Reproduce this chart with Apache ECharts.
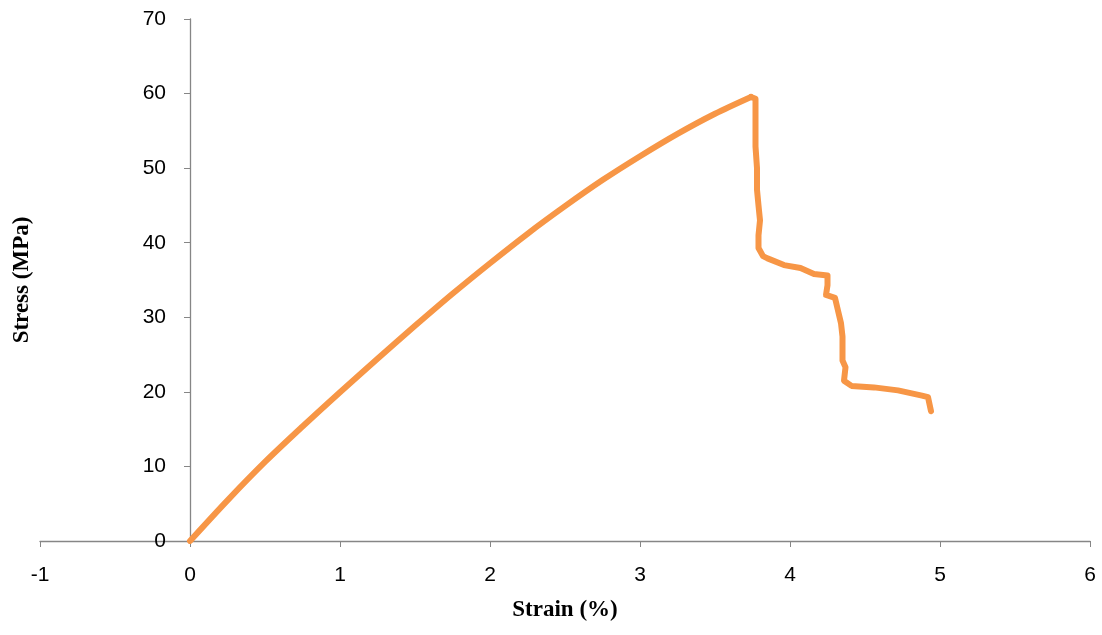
<!DOCTYPE html>
<html>
<head>
<meta charset="utf-8">
<script src="https://cdn.jsdelivr.net/npm/echarts@6/dist/echarts.min.js"></script>
<style>
  html, body { margin: 0; padding: 0; background: #fff; }
  #chart { width: 1102px; height: 635px; }
</style>
</head>
<body>
<div id="chart"></div>
<script>
// loading part, strain (%) and stress (MPa)
const riseStrain = [0, 0.25, 0.5, 0.75, 1, 1.25, 1.5, 1.75, 2, 2.25, 2.5, 2.75, 3, 3.25, 3.5, 3.74]
const riseStress = [0, 5.45, 10.6, 15.35, 19.95, 24.45, 28.85, 33.15, 37.25, 41.2, 44.9, 48.4, 51.6, 54.6, 57.3, 59.55]

// failure part after the peak
const dropStrain = [
  3.74, 3.77, 3.77, 3.77, 3.78, 3.78, 3.79, 3.8, 3.79, 3.79, 3.82,
  3.85, 3.96, 4.07, 4.16, 4.25, 4.25, 4.24, 4.3, 4.32, 4.34, 4.35, 4.35, 4.37, 4.36,
  4.41, 4.56, 4.72, 4.88, 4.92, 4.94
]
const dropStress = [
  59.55, 59.3, 55, 52.9, 50, 47.1, 45, 43, 41, 39.3, 38.2,
  37.9, 37.0, 36.6, 35.8, 35.6, 34.3, 33.0, 32.6, 30.9, 29.2, 27.4, 24.2, 23.3, 21.5,
  20.8, 20.6, 20.2, 19.5, 19.3, 17.4
]

const xTicks = { min: -1, max: 6, interval: 1 }
const yTicks = { min: 0, max: 70, interval: 10 }

const axisColor = '#868686'
const curveColor = '#F79646'
const labelStyle = { color: '#000', fontFamily: 'Liberation Sans', fontSize: 21 }
const nameStyle = { color: '#000', fontFamily: 'Liberation Serif', fontSize: 23, fontWeight: 'bold' }

const W = 1102, gridLeft = 40, gridRight = 12
// the value axis sits at strain = 0, so shift it right by one unit of the x scale
const yShift = (W - gridLeft - gridRight) / (xTicks.max - xTicks.min) * (0 - xTicks.min)

const zip = (xs, ys) => xs.map((x, i) => [x, ys[i]])
const curveLine = { color: curveColor, width: 6, cap: 'round', join: 'round' }

const chart = echarts.init(document.getElementById('chart'))
chart.setOption({
  animation: false,
  grid: { left: gridLeft, right: gridRight, top: 19, bottom: 94, containLabel: false, outerBoundsMode: 'none' },
  xAxis: {
    type: 'value',
    ...xTicks,
    name: 'Strain (%)',
    nameLocation: 'middle',
    nameGap: 58,
    nameTextStyle: nameStyle,
    splitLine: { show: false },
    axisLine: { lineStyle: { color: axisColor, width: 1.3 } },
    axisTick: { length: 6, lineStyle: { color: axisColor } },
    axisLabel: { ...labelStyle, margin: 24 },
  },
  yAxis: {
    type: 'value',
    ...yTicks,
    offset: -yShift,
    name: 'Stress (MPa)',
    nameLocation: 'middle',
    nameGap: 156,
    nameTextStyle: nameStyle,
    splitLine: { show: false },
    axisLine: { onZero: false, lineStyle: { color: axisColor, width: 1.3 } },
    axisTick: { length: 6, lineStyle: { color: axisColor } },
    axisLabel: { ...labelStyle, margin: 24 },
  },
  series: [{
    type: 'line',
    data: zip(riseStrain, riseStress),
    smooth: 0.3,
    showSymbol: false,
    lineStyle: curveLine,
    itemStyle: { color: curveColor },
  }, {
    type: 'line',
    data: zip(dropStrain, dropStress),
    showSymbol: false,
    lineStyle: curveLine,
    itemStyle: { color: curveColor },
  }],
})
</script>
</body>
</html>
